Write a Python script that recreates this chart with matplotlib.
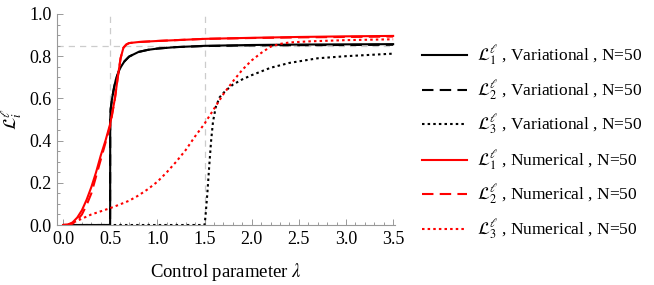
import numpy as np
import matplotlib
matplotlib.use('Agg')
import matplotlib.pyplot as plt
from matplotlib.ticker import MultipleLocator

# values
x_var1 = [0, 0.499, 0.5, 0.505, 0.52, 0.54, 0.56, 0.6, 0.65, 0.7, 0.8, 0.9, 1.0, 1.2, 1.5, 2.0, 2.5, 3.0, 3.5]
y_var1 = [0, 0, 0.50, 0.55, 0.60, 0.65, 0.69, 0.74, 0.775, 0.798, 0.82, 0.83, 0.836, 0.843, 0.849, 0.853, 0.855, 0.856, 0.857]
x_var2 = [0, 0.499, 0.5, 0.505, 0.52, 0.54, 0.56, 0.6, 0.65, 0.7, 0.8, 0.9, 1.0, 1.2, 1.5, 2.0, 2.5, 3.0, 3.5]
y_var2 = [0, 0, 0.50, 0.55, 0.60, 0.65, 0.69, 0.74, 0.775, 0.798, 0.82, 0.83, 0.836, 0.843, 0.848, 0.851, 0.852, 0.853, 0.854]
x_var3 = [0, 1.5, 1.51, 1.53, 1.55, 1.57, 1.59, 1.62, 1.66, 1.72, 1.8, 1.9, 2.0, 2.2, 2.4, 2.7, 3.0, 3.25, 3.5]
y_var3 = [0, 0, 0.04, 0.15, 0.28, 0.40, 0.49, 0.56, 0.605, 0.635, 0.665, 0.69, 0.71, 0.745, 0.768, 0.79, 0.80, 0.806, 0.812]

x_num1 = [0, 0.05, 0.1, 0.15, 0.2, 0.25, 0.3, 0.35, 0.4, 0.45, 0.5, 0.55, 0.58, 0.61, 0.64, 0.67, 0.7, 0.8, 1.0, 1.5, 2.0, 2.5, 3.0, 3.5]
y_num1 = [0, 0.002, 0.012, 0.035, 0.07, 0.12, 0.18, 0.25, 0.33, 0.40, 0.48, 0.60, 0.70, 0.79, 0.84, 0.855, 0.862, 0.867, 0.872, 0.882, 0.887, 0.891, 0.894, 0.896]
x_num2 = [0, 0.05, 0.1, 0.15, 0.2, 0.25, 0.3, 0.35, 0.4, 0.45, 0.5, 0.55, 0.58, 0.61, 0.64, 0.67, 0.7, 0.8, 1.0, 1.5, 2.0, 2.5, 3.0, 3.5]
y_num2 = [0, 0.001, 0.006, 0.022, 0.05, 0.095, 0.15, 0.23, 0.31, 0.39, 0.47, 0.60, 0.70, 0.79, 0.84, 0.855, 0.862, 0.867, 0.872, 0.882, 0.886, 0.889, 0.891, 0.893]
x_num3 = [0, 0.05, 0.1, 0.2, 0.3, 0.4, 0.5, 0.6, 0.7, 0.8, 0.9, 1.0, 1.1, 1.2, 1.3, 1.4, 1.5, 1.6, 1.7, 1.8, 1.9, 2.0, 2.1, 2.2, 2.3, 2.4, 2.6, 2.8, 3.0, 3.25, 3.5]
y_num3 = [0, 0, 0.01, 0.03, 0.05, 0.065, 0.08, 0.097, 0.115, 0.14, 0.17, 0.205, 0.25, 0.30, 0.355, 0.42, 0.48, 0.55, 0.62, 0.68, 0.735, 0.78, 0.815, 0.845, 0.858, 0.865, 0.87, 0.873, 0.876, 0.878, 0.88]

labels = [r'$\mathcal{L}_1^\ell$ , Variational , N=50',
          r'$\mathcal{L}_2^\ell$ , Variational , N=50',
          r'$\mathcal{L}_3^\ell$ , Variational , N=50',
          r'$\mathcal{L}_1^\ell$ , Numerical , N=50',
          r'$\mathcal{L}_2^\ell$ , Numerical , N=50',
          r'$\mathcal{L}_3^\ell$ , Numerical , N=50']

# guide lines
h_guide = 0.85
v_guides = [0.5, 1.5]

plt.rcParams['font.family'] = ['Liberation Serif', 'DejaVu Serif']
plt.rcParams['mathtext.fontset'] = 'stix'
plt.rcParams['font.size'] = 13

fig = plt.figure(figsize=(6.54, 2.85), dpi=100)
ax = fig.add_axes([0.0872, 0.2105, 0.5168, 0.7405])

dash = (5.5, 3)
dot = (1.2, 1.5)
lw = 1.5

ax.axhline(h_guide, color='#cccccc', lw=0.9, ls=(0, (5, 4)), zorder=1)
for v in v_guides:
    ax.axvline(v, color='#cccccc', lw=0.9, ls=(0, (5, 4)), zorder=1)

lines = []
lines += ax.plot(x_var1, y_var1, color='black', lw=lw)
lines += ax.plot(x_var2, y_var2, color='black', lw=lw, dashes=dash)
lines += ax.plot(x_var3, y_var3, color='black', lw=lw, dashes=dot)
lines += ax.plot(x_num1, y_num1, color='red', lw=lw)
lines += ax.plot(x_num2, y_num2, color='red', lw=lw, dashes=dash)
lines += ax.plot(x_num3, y_num3, color='red', lw=lw, dashes=dot)

ax.set_xlim(-0.064, 3.52)
ax.set_ylim(0, 1.0)
ax.xaxis.set_major_locator(MultipleLocator(0.5))
ax.xaxis.set_minor_locator(MultipleLocator(0.1))
ax.yaxis.set_major_locator(MultipleLocator(0.2))
ax.yaxis.set_minor_locator(MultipleLocator(0.05))
ax.xaxis.set_major_formatter(lambda v, p: '%.1f' % v)
ax.yaxis.set_major_formatter(lambda v, p: '%.1f' % v)

for s in ['top', 'right']:
    ax.spines[s].set_visible(False)
for s in ['left', 'bottom']:
    ax.spines[s].set_color('#999999')
    ax.spines[s].set_linewidth(0.8)
ax.tick_params(which='both', direction='in', color='#999999', width=0.7, labelsize=13, pad=4)
ax.tick_params(which='major', length=4)
ax.tick_params(which='minor', length=2.5)

ax.set_xlabel(r'Control parameter $\lambda$', fontsize=13.5, labelpad=10)
ax.set_ylabel(r'$\mathcal{L}_i^\ell$', fontsize=13, labelpad=4)

leg1 = fig.legend(handles=lines[:3], labels=labels[:3], loc='upper left',
                  bbox_to_anchor=(0.621, 0.899), frameon=False, fontsize=12.5,
                  handlelength=2.6, handletextpad=0.6, labelspacing=0.6)
leg2 = fig.legend(handles=lines[3:], labels=labels[3:], loc='upper left',
                  bbox_to_anchor=(0.621, 0.532), frameon=False, fontsize=12.5,
                  handlelength=2.6, handletextpad=0.6, labelspacing=0.6)

fig.savefig('out.png', dpi=100)
